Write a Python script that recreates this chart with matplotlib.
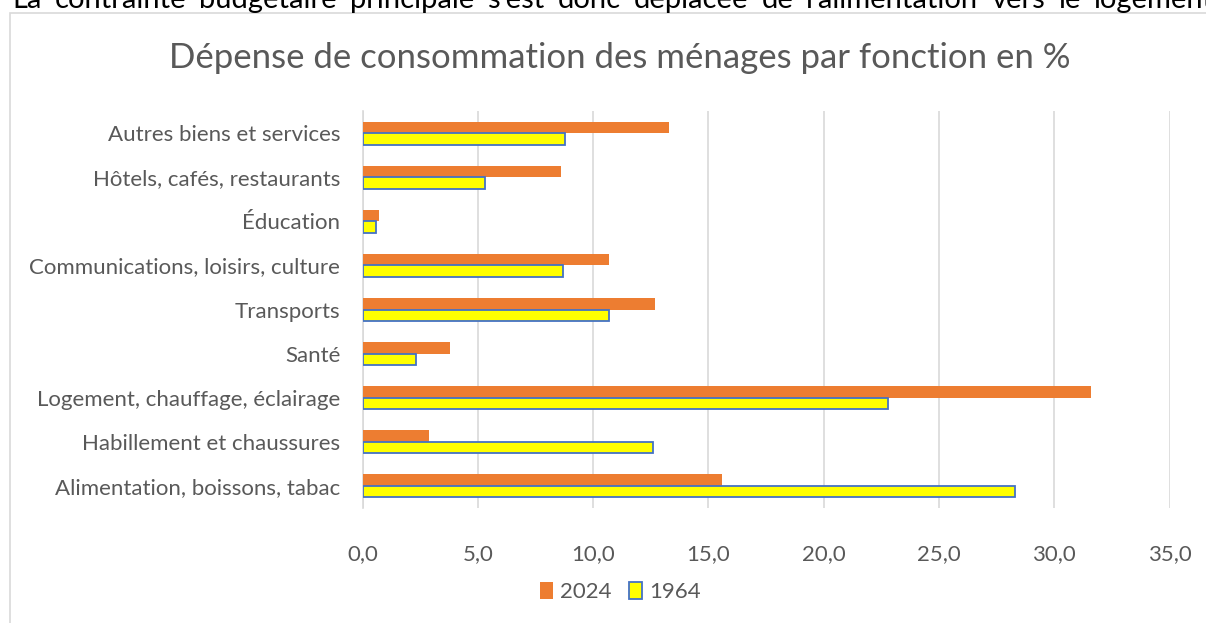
import numpy as np
import matplotlib
matplotlib.use("Agg")
import matplotlib.pyplot as plt
from matplotlib.patches import Rectangle

categories = ["Alimentation, boissons, tabac", "Habillement et chaussures",
              "Logement, chauffage, éclairage", "Santé", "Transports",
              "Communications, loisirs, culture", "Éducation",
              "Hôtels, cafés, restaurants", "Autres biens et services"]
val_2024 = [15.6, 2.9, 31.6, 3.8, 12.7, 10.7, 0.7, 8.6, 13.3]
val_1964 = [28.3, 12.6, 22.8, 2.3, 10.7, 8.7, 0.6, 5.3, 8.8]
xticks = [0, 5, 10, 15, 20, 25, 30, 35]

title = "Dépense de consommation des ménages par fonction en %"
header = "La contrainte budgétaire principale s'est donc déplacée de l'alimentation vers le logement"

plt.rcParams['font.family'] = ['Lato', 'DejaVu Sans']
grey = "#595959"

W, H = 1206, 623
fig = plt.figure(figsize=(W / 100, H / 100), dpi=100)

# chart frame
fig.patches.append(Rectangle((10 / W, -0.1), 1.2, 1 - 13 / H + 0.1,
                             transform=fig.transFigure, fill=False,
                             edgecolor="#D9D9D9", lw=1.2))

# justified sentence above the chart (cut at top, as in the source page)
words = header.split()
texts = [fig.text(0, 1 - 8 / H, w, fontsize=21, va="baseline", ha="left",
                  color="black") for w in words]
renderer = fig.canvas.get_renderer()
widths = [t.get_window_extent(renderer).width for t in texts]
left, right = 12, 1214
gap = (right - left - sum(widths)) / (len(words) - 1)
xpos = left
for t, wd in zip(texts, widths):
    t.set_x(xpos / W)
    xpos += wd + gap

ax = fig.add_axes([362.5 / W, 1 - 508 / H, 807 / W, 397 / H])

y = np.arange(len(categories))
h = 0.26
ax.barh(y + h / 2, val_2024, height=h, color="#ED7D31", label="2024", zorder=3)
ax.barh(y - h / 2, val_1964, height=h, color="#FFFF00", edgecolor="#4472C4",
        linewidth=1.3, label="1964", zorder=3)

ax.set_xlim(0, 35)
ax.set_ylim(-0.5, len(categories) - 0.5)
ax.set_xticks(xticks)
ax.set_xticklabels([f"{t:.1f}".replace(".", ",") for t in xticks])
ax.set_yticks(y)
ax.set_yticklabels(categories)
ax.tick_params(axis="both", length=0, labelsize=16, colors=grey)
ax.tick_params(axis="y", pad=16)
ax.tick_params(axis="x", pad=26)
ax.grid(axis="x", color="#D9D9D9", lw=1.2, zorder=0)
for s in ["top", "right", "bottom"]:
    ax.spines[s].set_visible(False)
ax.spines["left"].set_color("#D9D9D9")
ax.spines["left"].set_linewidth(1.2)

fig.text(620 / W, 1 - 58 / H, title, ha="center", va="center",
         fontsize=25, color=grey)

fig.legend(loc="center", bbox_to_anchor=(620 / W, 1 - 592 / H), ncol=2,
           frameon=False, fontsize=16, labelcolor=grey,
           handlelength=0.6, handleheight=0.8, handletextpad=0.3,
           columnspacing=0.8)

fig.savefig("out.png", dpi=100)
